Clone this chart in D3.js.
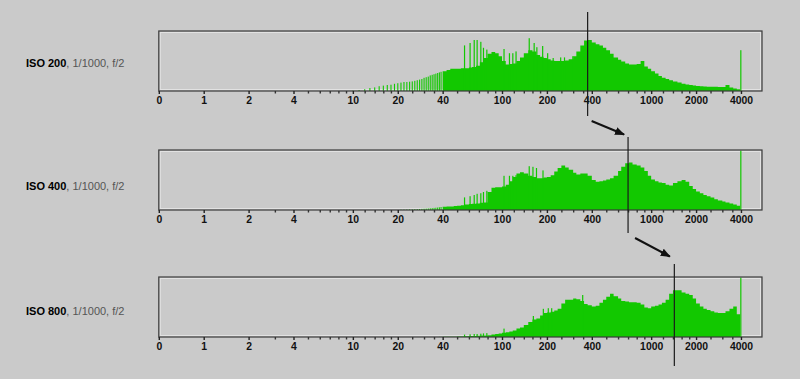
<!DOCTYPE html>
<html>
<head>
<meta charset="utf-8">
<script src="https://cdn.jsdelivr.net/npm/d3@7"></script>
<style>
  body { margin: 0; background: #cacaca; }
  svg { display: block; }
  .tick text { font-family: "Liberation Sans", Arial, sans-serif; font-weight: bold; font-size: 10.4px; fill: #111; }
</style>
</head>
<body>
<div id="chart"></div>
<script>
// raw level bin edges for the dense part of the histograms
const binEdges = [40, 42.5, 45, 47.5, 50, 53, 56, 60, 63, 67, 71, 75,
  80, 85, 90, 95, 100, 106, 112, 118, 125, 132, 140, 150,
  160, 170, 180, 190, 200, 212, 224, 236, 250, 265, 280, 300,
  315, 335, 355, 375, 400, 425, 450, 475, 500, 530, 560, 600,
  630, 670, 710, 750, 800, 850, 900, 950, 1000, 1060, 1120, 1180,
  1250, 1320, 1400, 1500, 1600, 1700, 1800, 1900, 2000, 2120, 2240, 2360,
  2500, 2650, 2800, 3000, 3150, 3350, 3550, 3750, 3950];

// counts, in % of panel height
const body200 = [33, 35, 37, 37, 37, 38, 38, 39, 40, 42, 48, 55,
  62, 65, 63, 58, 50, 44, 45, 46, 50, 56, 63, 68,
  66, 60, 57, 55, 53, 51, 50, 50, 50, 51, 53, 58,
  66, 76, 84, 85, 81, 78, 76, 72, 68, 62, 56, 52,
  49, 46, 44, 44, 45, 50, 41, 37, 33, 29, 25, 22,
  20, 18, 16, 14, 12, 11, 10, 9, 8.5, 8, 7.5, 7,
  7, 7, 6.5, 6.5, 10, 6, 4, 3];
const body400 = [5.5, 5.8, 6, 6.5, 7, 8, 9, 10, 10.5, 11, 12, 12.5,
  30, 37, 38, 38, 39, 42, 48, 55, 61, 63, 61, 57,
  55, 53, 53, 54, 55, 58, 64, 70, 74, 71, 67, 62,
  59, 61, 61, 57, 50, 47, 48, 49, 51, 53, 57, 65,
  72, 78, 79, 76, 74, 71, 65, 57, 51, 48, 46, 45,
  42, 41, 45, 48, 50, 47, 40, 35, 31, 28, 25, 23,
  21, 18, 16, 14, 12.5, 11, 9, 7];
const body800 = [0.3, 0.4, 0.5, 0.6, 0.8, 1, 1.2, 1.5, 1.8, 2, 2.3, 2.7,
  3, 4, 5, 6, 7, 8, 9, 11, 14, 16, 20, 25,
  29, 31, 36, 40, 41, 42, 44, 47, 56, 62, 62, 64,
  63, 60, 55, 53, 51, 52, 57, 62, 67, 72, 68, 64,
  60, 59, 58, 58, 57, 54, 49, 48, 51, 52, 54, 57,
  62, 72, 78, 78, 74, 72, 70, 64, 56, 51, 47, 45,
  43, 41, 40, 40, 43, 47, 51, 38];

// single raw levels below 40
const lowLevels = [10, 11, 12, 13, 14, 15, 16, 17, 18, 19, 20, 21, 22, 23, 24,
  25, 26, 27, 28, 29, 30, 31, 32, 33, 34, 35, 36, 37, 38, 39];
const low200 = [0.5, 1.5, 3, 5, 6, 8, 9, 10, 10.5, 12, 13, 14, 15, 15, 15.5,
  16, 17, 18, 19, 20, 22, 23, 24, 26, 27, 28, 29, 30, 31, 32];
const low400 = [0, 0, 0, 0, 0, 0, 0, 0, 0, 0, 0, 0.5, 0.6, 0.8, 1,
  1.1, 1.3, 1.5, 1.7, 1.9, 2.1, 2.3, 2.6, 2.9, 3.2, 3.5, 3.8, 4.1, 4.5, 5];
const low800 = [0, 0, 0, 0, 0, 0, 0, 0, 0, 0, 0, 0, 0, 0, 0,
  0, 0, 0, 0, 0, 0, 0, 0, 0, 0, 0, 0, 0, 0.2, 0.2];

// tall single-level spikes
const spikeLevels200 = [56, 61, 65, 68, 72, 75, 79, 103, 112, 118, 124, 152, 164, 171, 187, 202, 220, 247, 262, 298, 3985];
const spikeCounts200 = [76, 80, 85, 85, 82, 72, 69, 70, 63, 63, 66, 88, 80, 73, 75, 63, 55, 56, 56, 58, 68];
const spikeLevels400 = [56, 61, 65, 68, 72, 75, 79, 103, 112, 118, 124, 152, 161, 170, 188, 3985];
const spikeCounts400 = [21, 23, 25, 27, 28, 30, 32, 57, 57, 57, 58, 73, 72, 70, 66, 99];
const spikeLevels800 = [56, 61, 65, 68, 72, 75, 79, 103, 162, 189, 204, 215, 347, 3985];
const spikeCounts800 = [4, 4.5, 5, 5, 5.5, 6, 6.5, 14, 35, 47, 48, 48, 70, 99];

const markLevels = [375, 700, 1430];
const titles = ["ISO 200", "ISO 400", "ISO 800"];
const exposure = ", 1/1000, f/2";

const majorTicks = [0, 1, 2, 4, 10, 20, 40, 100, 200, 400, 1000, 2000, 4000];
const minorTicks = [3, 5, 6, 7, 8, 9, 12, 14, 16, 18, 25, 30, 35, 50, 60, 70, 80, 90,
  120, 140, 160, 180, 250, 300, 350, 500, 600, 700, 800, 900,
  1200, 1400, 1600, 1800, 2500, 3000, 3500];

const W = 800, H = 379;
const green = "#12c800";
const plotH = 60;

const svg = d3.select("#chart").append("svg").attr("width", W).attr("height", H);
svg.append("rect").attr("width", W).attr("height", H).attr("fill", "#cacaca");

const x = d3.scaleLog().domain([0.5, 4096]).range([158.8, 742.5]);
const boxLeft = x(0.5), boxRight = 762;

const panels = [
  {title: titles[0], body: body200, low: low200, sl: spikeLevels200, sc: spikeCounts200, mark: markLevels[0], top: 31, labelY: 67, up: 19, down: 25},
  {title: titles[1], body: body400, low: low400, sl: spikeLevels400, sc: spikeCounts400, mark: markLevels[1], top: 150, labelY: 190, up: 13, down: 23},
  {title: titles[2], body: body800, low: low800, sl: spikeLevels800, sc: spikeCounts800, mark: markLevels[2], top: 277, labelY: 315, up: 13, down: 29}
];

panels.forEach(p => {
  const bottom = p.top + plotH;
  const y = d3.scaleLinear().domain([0, 100]).range([bottom, p.top]);
  const g = svg.append("g");

  // light inner edge of the frame
  g.append("rect")
    .attr("x", boxLeft + 1.5).attr("y", p.top + 1.5)
    .attr("width", boxRight - boxLeft - 3).attr("height", plotH - 3)
    .attr("fill", "none").attr("stroke", "#e2e2e2").attr("stroke-width", 1);

  // dense part as a step area
  const pts = binEdges.map((e, k) => [e, p.body[Math.min(k, p.body.length - 1)]]);
  const area = d3.area()
    .curve(d3.curveStepAfter)
    .x(d => x(d[0]))
    .y0(bottom)
    .y1(d => y(d[1]));
  g.append("path").datum(pts).attr("d", area).attr("fill", green);

  // single levels below 40
  g.selectAll("rect.low")
    .data(lowLevels.map((l, k) => [l, p.low[k]]).filter(d => d[1] > 0))
    .join("rect")
      .attr("class", "low")
      .attr("x", d => x(d[0]) - 0.5)
      .attr("width", 1.1)
      .attr("y", d => y(d[1]))
      .attr("height", d => bottom - y(d[1]))
      .attr("fill", green);

  // spikes
  g.selectAll("rect.spike")
    .data(p.sl.map((l, k) => [l, p.sc[k]]))
    .join("rect")
      .attr("class", "spike")
      .attr("x", d => x(d[0]) - 0.5)
      .attr("width", 1.2)
      .attr("y", d => y(d[1]))
      .attr("height", d => bottom - y(d[1]))
      .attr("fill", green);

  // frame
  g.append("rect")
    .attr("x", boxLeft).attr("y", p.top)
    .attr("width", boxRight - boxLeft).attr("height", plotH)
    .attr("fill", "none").attr("stroke", "#3a3a3a").attr("stroke-width", 1.2);

  // axes
  g.append("g")
    .attr("transform", `translate(0,${bottom})`)
    .attr("color", "#333")
    .call(d3.axisBottom(x).tickValues(minorTicks).tickSize(2.5).tickFormat(""))
    .call(s => s.select(".domain").remove())
    .call(s => s.selectAll("line").attr("stroke-width", 1.4));

  g.append("g")
    .attr("transform", `translate(0,${bottom})`)
    .attr("color", "#222")
    .call(d3.axisBottom(x)
      .tickValues(majorTicks.map(v => Math.max(v, 0.5)))
      .tickSize(3)
      .tickPadding(3)
      .tickFormat(d => d < 1 ? "0" : d))
    .call(s => s.select(".domain").remove())
    .call(s => s.selectAll("line").attr("stroke-width", 1.4));

  // title
  const t = svg.append("text")
    .attr("x", 26).attr("y", p.labelY)
    .style("font-family", "'Liberation Sans', Arial, sans-serif")
    .style("font-size", "11px");
  t.append("tspan").attr("font-weight", "bold").attr("fill", "#000").text(p.title);
  t.append("tspan").attr("fill", "#555").text(exposure);

  // mark line
  g.append("line")
    .attr("x1", x(p.mark)).attr("x2", x(p.mark))
    .attr("y1", p.top - p.up).attr("y2", bottom + p.down)
    .attr("stroke", "#1a1a1a").attr("stroke-width", 1.2);
});

// arrows between the marks
svg.append("defs").append("marker")
  .attr("id", "head")
  .attr("markerUnits", "userSpaceOnUse")
  .attr("markerWidth", 10).attr("markerHeight", 8)
  .attr("refX", 9).attr("refY", 4)
  .attr("orient", "auto")
  .append("path").attr("d", "M0,0L10,4L0,8Z").attr("fill", "#111");

const arrowOffsets = [
  {dx0: 4, dy0: 5, dx1: -4, dy1: -2.5},
  {dx0: 7, dy0: 5, dx1: -4.5, dy1: -7.5}
];
arrowOffsets.forEach((o, i) => {
  const a = panels[i], b = panels[i + 1];
  svg.append("line")
    .attr("x1", x(a.mark) + o.dx0).attr("y1", a.top + plotH + a.down + o.dy0)
    .attr("x2", x(b.mark) + o.dx1).attr("y2", b.top - b.up + o.dy1)
    .attr("stroke", "#111").attr("stroke-width", 2)
    .attr("marker-end", "url(#head)");
});
</script>
</body>
</html>
